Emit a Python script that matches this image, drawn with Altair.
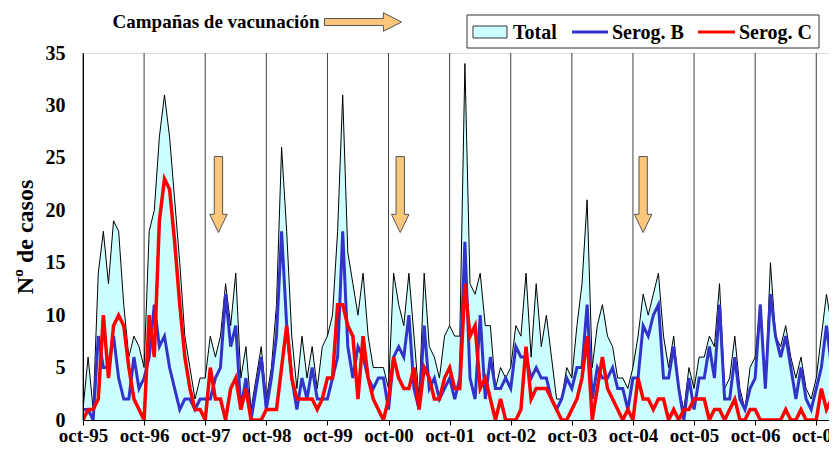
import altair as alt
import pandas as pd

# ---------------- data (monthly cases, oct-95 .. feb-08) ----------------
year_labels = ["oct-95", "oct-96", "oct-97", "oct-98", "oct-99", "oct-00", "oct-01",
               "oct-02", "oct-03", "oct-04", "oct-05", "oct-06", "oct-07"]

total = [1, 6, 1, 14, 18, 13, 19, 18, 11, 6, 8, 7,
         5, 18, 20, 27, 31, 27, 21, 15, 8, 5, 2, 4,
         4, 8, 6, 8, 13, 9, 14, 4, 7, 1, 4, 7,
         2, 5, 11, 26, 18, 8, 3, 8, 4, 7, 3, 7,
         8, 10, 18, 31, 16, 13, 10, 14, 8, 5, 5, 5,
         3, 14, 11, 9, 14, 8, 2, 14, 7, 6, 4, 8,
         9, 8, 8, 34, 13, 12, 14, 9, 9, 3, 5, 4,
         5, 9, 8, 14, 6, 13, 7, 10, 6, 2, 2, 5,
         4, 9, 13, 21, 5, 9, 11, 8, 7, 4, 4, 3,
         5, 8, 12, 10, 12, 14, 8, 5, 8, 3, 1, 5,
         3, 6, 6, 8, 7, 13, 3, 4, 8, 3, 1, 5,
         6, 11, 3, 15, 8, 7, 9, 6, 4, 6, 3, 2,
         4, 8, 12, 9, 7]

serog_b = [1, 1, 0, 8, 5, 5, 8, 4, 2, 2, 6, 3,
           4, 6, 11, 7, 8, 5, 3, 1, 2, 2, 1, 2,
           2, 2, 4, 5, 12, 7, 9, 1, 4, 0, 3, 6,
           1, 4, 8, 18, 9, 4, 1, 4, 2, 5, 2, 2,
           2, 4, 6, 18, 7, 4, 7, 6, 4, 3, 4, 4,
           1, 6, 7, 6, 10, 3, 1, 9, 3, 4, 2, 3,
           4, 2, 4, 17, 4, 2, 10, 2, 6, 3, 3, 4,
           3, 7, 6, 6, 4, 5, 4, 4, 2, 1, 2, 4,
           3, 5, 5, 11, 2, 5, 4, 4, 5, 3, 3, 1,
           4, 4, 9, 8, 10, 11, 4, 4, 7, 3, 0, 4,
           1, 4, 4, 7, 4, 11, 2, 2, 6, 2, 1, 3,
           4, 11, 3, 12, 8, 6, 8, 5, 2, 5, 2, 1,
           3, 5, 9, 5, 7]

serog_c = [0, 1, 1, 2, 10, 4, 9, 10, 9, 5, 2, 1,
           0, 10, 6, 19, 23, 22, 17, 11, 6, 3, 1, 1,
           0, 5, 2, 2, 0, 3, 4, 1, 3, 0, 0, 0,
           1, 1, 1, 5, 9, 4, 2, 2, 2, 2, 1, 2,
           4, 4, 11, 11, 9, 8, 2, 8, 4, 2, 1, 0,
           2, 6, 4, 3, 3, 5, 1, 5, 4, 2, 2, 4,
           5, 3, 3, 13, 8, 9, 3, 4, 2, 0, 2, 0,
           0, 0, 1, 7, 2, 3, 3, 3, 2, 1, 0, 0,
           1, 2, 4, 8, 0, 3, 6, 3, 2, 1, 0, 1,
           0, 4, 2, 2, 1, 2, 2, 0, 1, 0, 1, 1,
           2, 2, 2, 0, 1, 1, 0, 1, 2, 0, 0, 1,
           1, 0, 0, 0, 0, 0, 1, 0, 0, 1, 0, 0,
           0, 3, 1, 2, 0]

campaign_months = [26.6, 62.3, 110.0]   # months after oct-95 where the arrows sit
campaign_level = [21.5, 21.5, 21.5]
campaign_title = ["Campañas de vacunación"]
legend_labels = ["Total", "Serog. B", "Serog. C"]

# ---------------- tables ----------------
df = pd.DataFrame({
    "month": list(range(len(total))),
    "total": total,
    "b": serog_b,
    "c": serog_c,
})
grid_df = pd.DataFrame({"month": [12 * i for i in range(len(year_labels))]})
arrow_df = pd.DataFrame({"month": campaign_months, "level": campaign_level})

FONT = "Liberation Serif"
CYAN = "#CCFFFF"
BLUE = "#3333CC"
RED = "#FF0000"
ORANGE = "#FDC77B"

label_list = "[" + ",".join("'%s'" % s for s in year_labels) + "]"

x_scale = alt.Scale(domain=[0, 146.5], nice=False, zero=False)
y_scale = alt.Scale(domain=[0, 35], nice=False)

x_axis = alt.Axis(values=[12 * i for i in range(len(year_labels))],
                  labelExpr=label_list + "[round(datum.value/12)]",
                  grid=False, ticks=True, tickSize=5, tickColor="black",
                  domainColor="black", labelFont=FONT, labelFontWeight="bold",
                  labelFontSize=19, labelColor="black", labelPadding=16,
                  labelBaseline="alphabetic",
                  labelFlush=False, labelOverlap=False, zindex=1)
y_axis = alt.Axis(values=[0, 5, 10, 15, 20, 25, 30, 35], grid=False, ticks=False,
                  tickSize=0, domainColor="black", labelFont=FONT,
                  labelFontWeight="bold", labelFontSize=20, labelColor="black",
                  labelPadding=18, titleFont=FONT, titleFontWeight="bold",
                  titleFontSize=24, titleColor="black", titlePadding=8, zindex=1)


def X(field):
    return alt.X(field, type="quantitative", scale=x_scale, axis=x_axis, title=None)


def Y(field):
    return alt.Y(field, type="quantitative", scale=y_scale, axis=y_axis, title="Nº de casos")


grid = alt.Chart(grid_df).mark_rule(color="#404040", strokeWidth=1).encode(x=X("month"))

area = alt.Chart(df).mark_area(color=CYAN, opacity=1, clip=True).encode(x=X("month"), y=Y("total"))
total_line = alt.Chart(df).mark_line(color="black", strokeWidth=1, clip=True).encode(x=X("month"), y=Y("total"))
b_line = alt.Chart(df).mark_line(color=BLUE, strokeWidth=3, clip=True).encode(x=X("month"), y=Y("b"))
c_line = alt.Chart(df).mark_line(color=RED, strokeWidth=3.5, clip=True).encode(x=X("month"), y=Y("c"))

down_arrow = "M -0.11 -1 L 0.11 -1 L 0.11 0.52 L 0.23 0.52 L 0 1 L -0.23 0.52 L -0.11 0.52 Z"
arrows = alt.Chart(arrow_df).mark_point(
    shape=down_arrow, size=5776, filled=True, fill=ORANGE, stroke="#555555",
    strokeWidth=1, opacity=1
).encode(x=X("month"), y=Y("level"))

# ---- annotation above the plot ----
ann_df = pd.DataFrame({"t": campaign_title})
ann_text = alt.Chart(ann_df).mark_text(
    font=FONT, fontWeight="bold", fontSize=19, color="black", align="center", baseline="middle"
).encode(x=alt.value(133), y=alt.value(-31), text="t:N")
right_arrow = "M -1 -0.09 L 0.53 -0.09 L 0.53 -0.24 L 1 0 L 0.53 0.24 L 0.53 0.09 L -1 0.09 Z"
ann_arrow = alt.Chart(ann_df).mark_point(
    shape=right_arrow, size=5929, filled=True, fill=ORANGE, stroke="#555555",
    strokeWidth=1, opacity=1
).encode(x=alt.value(280), y=alt.value(-31))

# ---- legend (drawn by hand) ----
leg_df = pd.DataFrame({"label": legend_labels})
leg_box = alt.Chart(ann_df).mark_rect(fill="white", stroke="#333333", strokeWidth=1).encode(
    x=alt.value(384), x2=alt.value(736), y=alt.value(-38), y2=alt.value(-5))
leg_total = alt.Chart(ann_df).mark_rect(fill=CYAN, stroke="#333333", strokeWidth=1).encode(
    x=alt.value(390), x2=alt.value(424), y=alt.value(-27), y2=alt.value(-15))
leg_b = alt.Chart(ann_df).mark_rule(color=BLUE, strokeWidth=3).encode(
    x=alt.value(489), x2=alt.value(525), y=alt.value(-21))
leg_c = alt.Chart(ann_df).mark_rule(color=RED, strokeWidth=3).encode(
    x=alt.value(615), x2=alt.value(652), y=alt.value(-21))


def leg_text(i, xpos):
    return alt.Chart(leg_df).transform_filter(
        alt.datum.label == legend_labels[i]
    ).mark_text(font=FONT, fontWeight="bold", fontSize=20, color="black",
                align="left", baseline="middle").encode(
        x=alt.value(xpos), y=alt.value(-20), text="label:N")


chart = alt.layer(
    grid, area, total_line, b_line, c_line, arrows,
    ann_text, ann_arrow, leg_box, leg_total, leg_b, leg_c,
    leg_text(0, 430), leg_text(1, 529), leg_text(2, 656),
).properties(
    width=746, height=367,
    autosize=alt.AutoSizeParams(type="none"),
    padding={"left": 75, "top": 45, "right": 0, "bottom": 26},
).configure_view(stroke="black", strokeWidth=1).configure(font=FONT)

chart.save("out.html", embed_options={"renderer": "svg", "actions": False})
